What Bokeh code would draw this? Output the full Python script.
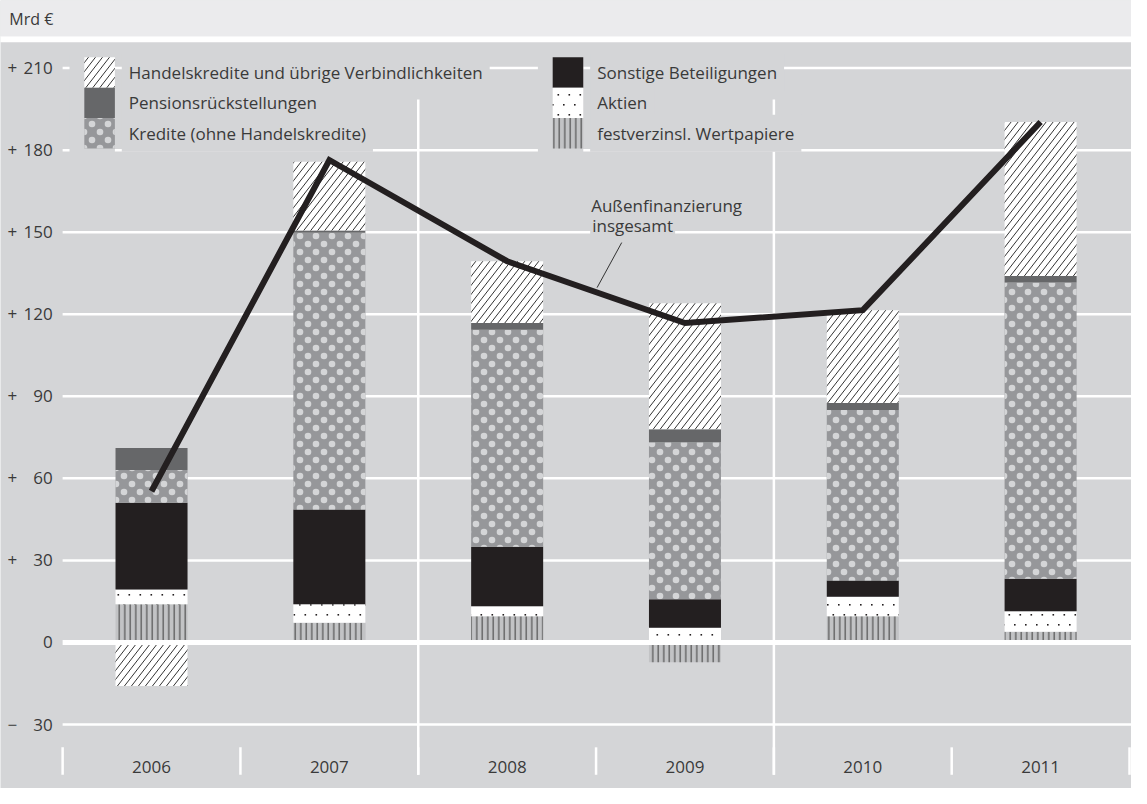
import base64
from bokeh.plotting import figure
from bokeh.models import Range1d, Label, ImageURLTexture, ColumnDataSource
from bokeh.embed import file_html
from bokeh.resources import INLINE
from bokeh.core.properties import value

# ---------------- data (Mrd €) ----------------
years = ["2006", "2007", "2008", "2009", "2010", "2011"]
festverz = [14.0, 7.2, 9.6, -7.2, 9.6, 3.9]        # festverzinsl. Wertpapiere
aktien = [5.4, 6.8, 3.6, 5.4, 7.1, 7.5]            # Aktien
sonstige = [31.7, 34.6, 21.8, 10.4, 6.0, 11.9]     # Sonstige Beteiligungen
kredite = [12.0, 101.2, 79.3, 57.4, 62.3, 108.3]   # Kredite (ohne Handelskredite)
pension = [8.0, 0.8, 2.5, 4.8, 2.6, 2.4]           # Pensionsrückstellungen
handels = [-15.9, 25.2, 22.6, 46.0, 33.9, 56.3]    # Handelskredite und übrige Verbindlichkeiten
total = [55.3, 176.4, 139.4, 116.8, 121.5, 190.3]  # Außenfinanzierung insgesamt
y_ticks = [-30, 0, 30, 60, 90, 120, 150, 180, 210]

series_names = ["festverzinsl. Wertpapiere", "Aktien", "Sonstige Beteiligungen",
                "Kredite (ohne Handelskredite)", "Pensionsrückstellungen",
                "Handelskredite und übrige Verbindlichkeiten"]
series_values = [festverz, aktien, sonstige, kredite, pension, handels]

# ---------------- layout helpers ----------------
REF_W, REF_H = 1147, 804
W, H = 1131, 788
X0, CW = 63.0, 180.33      # reference px of first category boundary, category width
Y0, PPU = 655.0, 2.7905    # reference px of zero, px per unit


def dx(px):
    return (px - X0) / CW


def dy(py):
    return (Y0 - py) / PPU


BG = "#d4d5d7"
HEADER = "#ebebed"
TXT = "#3a3a3a"
FONT = "Open Sans"
FS = "17px"


def svg_texture(svg):
    url = "data:image/svg+xml;base64," + base64.b64encode(svg.encode("utf-8")).decode("ascii")
    return ImageURLTexture(url=url)


# fine staggered black dots (Aktien)
tex_akt = svg_texture(
    "<svg xmlns='http://www.w3.org/2000/svg' width='22' height='20'>"
    "<g fill='#231f20'>"
    "<rect x='2' y='4' width='1.6' height='1.6'/><rect x='13' y='4' width='1.6' height='1.6'/>"
    "<rect x='7.5' y='14' width='1.6' height='1.6'/><rect x='18.5' y='14' width='1.6' height='1.6'/>"
    "</g></svg>")
# light staggered dots (Kredite)
tex_kred = svg_texture(
    "<svg xmlns='http://www.w3.org/2000/svg' width='16' height='16'>"
    "<g fill='#d4d5d7'>"
    "<circle cx='4' cy='4' r='3.3'/><circle cx='12' cy='12' r='3.3'/>"
    "</g></svg>")
# diagonal hatch (Handelskredite)
tw, th = 7, 9
diag_paths = "".join(
    f"<line x1='{k * tw - tw}' y1='{2 * th}' x2='{(k + 1) * tw + tw}' y2='{-th}'/>" for k in (-1, 0, 1))
tex_diag = svg_texture(
    f"<svg xmlns='http://www.w3.org/2000/svg' width='{tw}' height='{th}'>"
    f"<g stroke='#333333' stroke-width='1'>{diag_paths}</g></svg>")

styles = [
    dict(fill_color="#c2c3c5", hatch_pattern="|", hatch_scale=5.5, hatch_color="#3a3a3a",
         hatch_weight=1),
    dict(fill_color="#ffffff", hatch_pattern=value("akt"), hatch_extra={"akt": tex_akt}),
    dict(fill_color="#231f20"),
    dict(fill_color="#96979a", hatch_pattern=value("kred"), hatch_extra={"kred": tex_kred}),
    dict(fill_color="#666769"),
    dict(fill_color="#ffffff", hatch_pattern=value("diag"), hatch_extra={"diag": tex_diag}),
]

p = figure(width=W, height=H, output_backend="svg", toolbar_location=None,
           x_range=Range1d(dx(0), dx(REF_W)), y_range=Range1d(dy(REF_H), dy(0)),
           x_axis_type=None, y_axis_type=None, min_border=0)
p.background_fill_color = BG
p.border_fill_color = BG
p.outline_line_color = None
p.grid.visible = False

# ---------------- header ----------------
p.quad(left=dx(0) - 0.1, right=dx(REF_W) + 0.1, top=dy(0) + 2, bottom=dy(36.5),
       fill_color=HEADER, line_color=None)
p.quad(left=dx(0) - 0.1, right=dx(REF_W) + 0.1, top=dy(36.5), bottom=dy(42.5),
       fill_color="#ffffff", line_color=None)
p.text(x=[dx(9)], y=[dy(19)], text=["Mrd €"], text_font=value(FONT),
       text_font_size=value("16px"), text_color=TXT, text_align="left", text_baseline="middle")

# ---------------- grid ----------------
grid_ticks = [t for t in y_ticks if t != 0]
p.segment(x0=[dx(X0)] * len(grid_ticks), x1=[dx(REF_W) + 0.1] * len(grid_ticks),
          y0=grid_ticks, y1=grid_ticks, line_color="#ffffff", line_width=2.5)
n = len(years)
p.segment(x0=[2, 4], x1=[2, 4], y0=[dy(101)] * 2, y1=[dy(790)] * 2,
          line_color="#ffffff", line_width=2.5)
bounds = list(range(n + 1))
p.segment(x0=bounds, x1=bounds, y0=[dy(762)] * len(bounds), y1=[dy(790)] * len(bounds),
          line_color="#ffffff", line_width=2.5)

# ---------------- stacked bars ----------------
xs = [i + 0.5 for i in range(n)]
pos_base = [0.0] * n
neg_base = [0.0] * n
for vals, st in zip(series_values, styles):
    bottoms, tops = [], []
    for i, v in enumerate(vals):
        if v >= 0:
            bottoms.append(pos_base[i]); tops.append(pos_base[i] + v); pos_base[i] += v
        else:
            bottoms.append(neg_base[i] + v); tops.append(neg_base[i]); neg_base[i] += v
    src = ColumnDataSource(dict(x=xs, bottom=bottoms, top=tops))
    p.vbar(x="x", bottom="bottom", top="top", width=0.405, source=src, line_color=None, **st)

# zero line on top of bars
p.segment(x0=[dx(X0)], x1=[dx(REF_W) + 0.1], y0=[0], y1=[0], line_color="#ffffff", line_width=5)

# ---------------- total line ----------------
p.line(x=xs, y=total, line_color="#231f20", line_width=6, line_join="miter")
p.segment(x0=[dx(630)], y0=[dy(247)], x1=[dx(605)], y1=[dy(293)], line_color="#333333", line_width=1)

# ---------------- axis labels ----------------
signs = [("+" if t > 0 else ("−" if t < 0 else "")) for t in y_ticks]
nums = [str(abs(t)) for t in y_ticks]
p.text(x=[dx(7)] * len(y_ticks), y=y_ticks, text=signs, text_font=value(FONT),
       text_font_size=value(FS), text_color=TXT, text_align="left", text_baseline="middle")
p.text(x=[dx(53)] * len(y_ticks), y=y_ticks, text=nums, text_font=value(FONT),
       text_font_size=value(FS), text_color=TXT, text_align="right", text_baseline="middle")
p.text(x=xs, y=[dy(782)] * n, text=years, text_font=value(FONT),
       text_font_size=value(FS), text_color=TXT, text_align="center", text_baseline="middle")

# ---------------- legend ----------------
legend_cols = [
    (85, 116, 123, [5, 4, 3]),   # Handelskredite, Pension, Kredite
    (560, 591, 598, [2, 1, 0]),  # Sonstige, Aktien, festverz
]
row_top = [58, 89, 120]
row_bot = [89, 120, 151]
for sx0, sx1, tx, idxs in legend_cols:
    p.quad(left=dx(sx0 - 15), right=dx(sx1), top=dy(55), bottom=dy(155),
           fill_color=BG, line_color=None)
    for r, k in enumerate(idxs):
        p.quad(left=dx(sx0), right=dx(sx1), top=dy(row_top[r]), bottom=dy(row_bot[r]),
               line_color=None, **styles[k])
        p.add_layout(Label(x=dx(tx), y=dy((row_top[r] + row_bot[r]) / 2), text=series_names[k],
                           text_font=FONT, text_font_size=FS, text_color=TXT,
                           text_baseline="middle", text_align="left",
                           background_fill_color=BG, padding=7))

# second line first, so the first line's descenders are not covered
for txt, yy, pad in [("insgesamt", 229.5, 2), ("Außenfinanzierung", 209.5, 1)]:
    p.add_layout(Label(x=dx(598), y=dy(yy), text=txt, text_font=FONT, text_font_size=FS,
                       text_color=TXT, text_baseline="middle", text_align="left",
                       background_fill_color=BG, padding=pad))

open("out.html", "w").write(file_html(p, INLINE))
